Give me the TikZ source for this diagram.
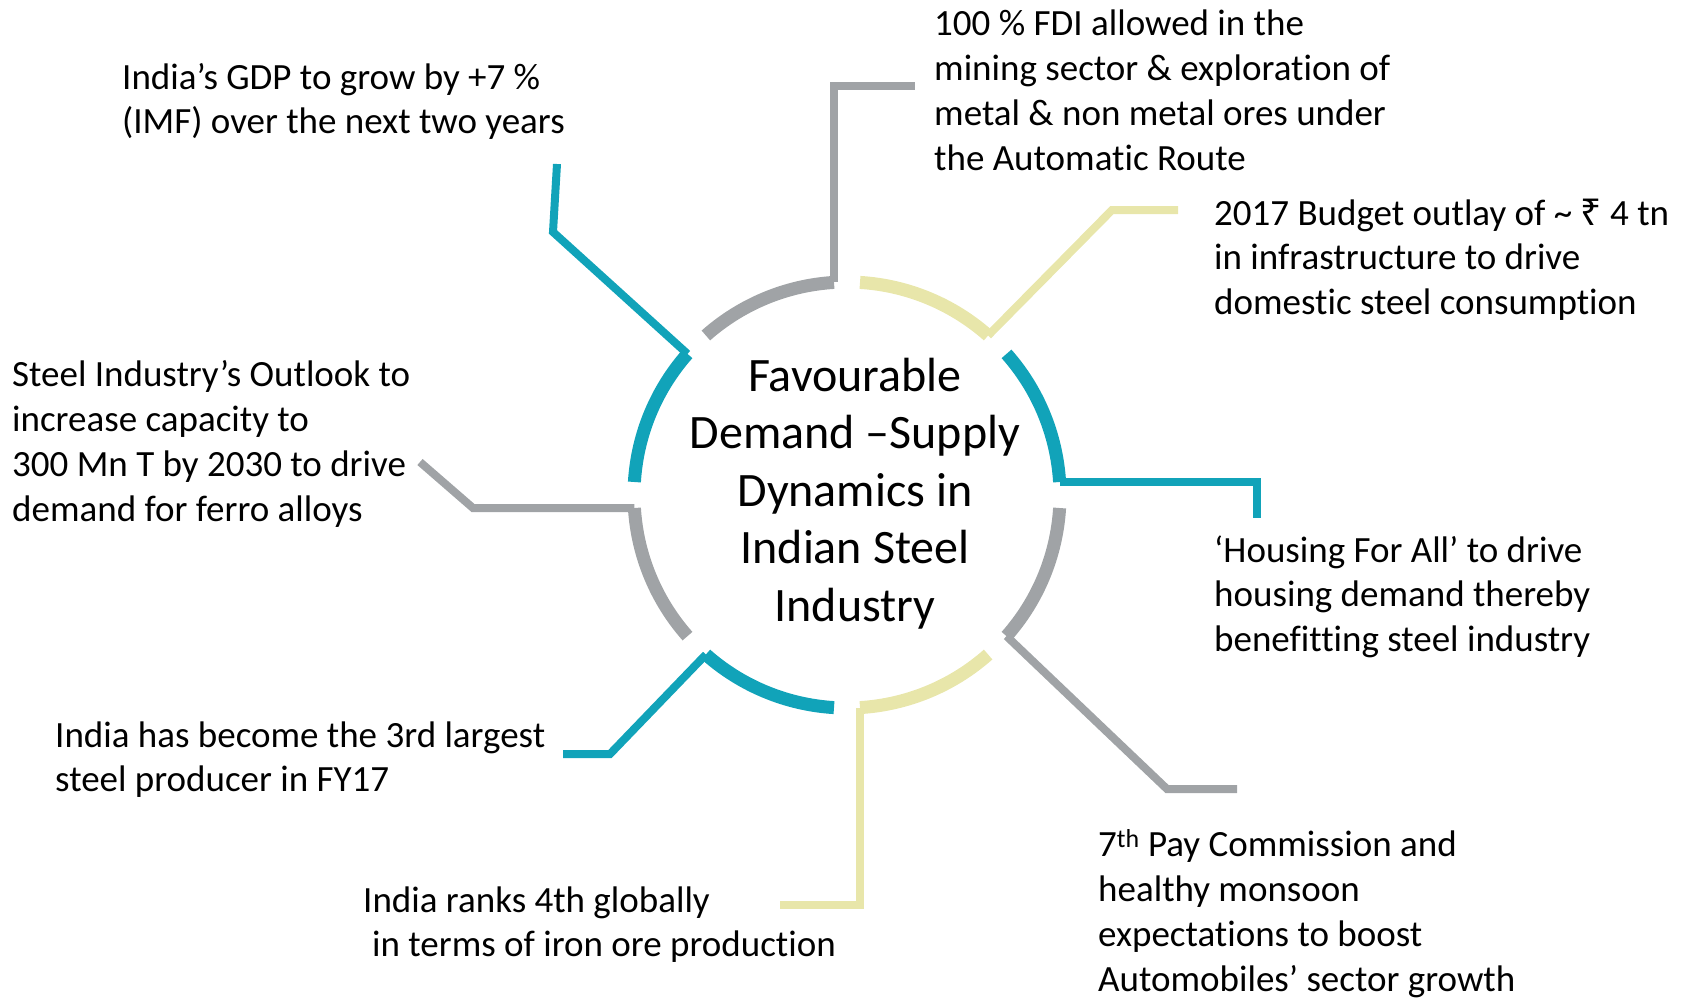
\documentclass[tikz,border=0pt]{standalone}
\usepackage{fontspec}
\setmainfont{Carlito}[Ligatures=NoCommon]
\newfontfamily\rupeefont{Noto Sans}
\definecolor{steelteal}{RGB}{17,163,185}
\definecolor{steelgray}{RGB}{160,163,166}
\definecolor{steelyellow}{RGB}{232,230,170}
\tikzstyle{ring}=[line width=13pt]
\tikzstyle{lead}=[line width=8pt,line join=miter]
\tikzstyle{note}=[anchor=base west,align=left,inner sep=0pt,font=\fontsize{37}{44.7}\selectfont]
\tikzstyle{hubtext}=[anchor=base,align=center,inner sep=0pt,font=\fontsize{48}{57.5}\selectfont]

\begin{document}
\begin{tikzpicture}[x=1pt,y=1pt]
    \useasboundingbox (0,0) rectangle (1684,-997);
    \coordinate (ctr) at (847,-495);
    % base of a node is the baseline of its last line
    \node[hubtext] (hub) at (855,-621) {Favourable\\Demand –Supply\\Dynamics in\\Indian Steel\\Industry};

    % ring of eight arcs
    \foreach \a/\col in {0/steelteal,45/steelyellow,90/steelgray,135/steelteal,180/steelgray,225/steelteal,270/steelyellow,315/steelgray}
    \draw[ring,\col] ([shift={(\a+3.5:213pt)}]ctr) arc[start angle=\a+3.5,end angle=\a+41.5,radius=213pt];

    % text around the ring
    \node[note] (gdp) at (122,-133.7) {India’s GDP to grow by +7 \%\\(IMF) over the next two years};
    \node[note] (fdi) at (934,-170) {100 \% FDI allowed in the\\mining sector \& exploration of\\metal \& non metal ores under\\the Automatic Route};
    \node[note] (budget) at (1214,-314.4) {2017 Budget outlay of \textasciitilde\ {\rupeefont ₹} 4 tn\\in infrastructure to drive\\domestic steel consumption};
    \node[note] (housing) at (1214,-651.4) {‘Housing For All’ to drive\\housing demand thereby\\benefitting steel industry};
    \node[note] (paycom) at (1098,-991) {7\textsuperscript{th} Pay Commission and\\healthy monsoon\\expectations to boost\\Automobiles’ sector growth};
    \node[note] (ironore) at (363,-956.7) {India ranks 4th globally\\\hspace*{9pt}in terms of iron ore production};
    \node[note] (rank3) at (55,-791.7) {India has become the 3rd largest\\steel producer in FY17};
    \node[note] (outlook) at (12,-521) {Steel Industry’s Outlook to\\increase capacity to\\300 Mn T by 2030 to drive\\demand for ferro alloys};

    % leader ends
    \coordinate (gdpA) at ([shift={(138.5:213pt)}]ctr);
    \coordinate (gdpB) at (553,-232);
    \coordinate (gdpC) at (557,-164);
    \coordinate (fdiA) at ([shift={(93.5:213pt)}]ctr);
    \coordinate (fdiC) at (915,-86);
    \coordinate (budgetA) at ([shift={(48.5:213pt)}]ctr);
    \coordinate (budgetB) at (1112,-210);
    \coordinate (budgetC) at (1178,-210);
    \coordinate (housingA) at ([shift={(3.5:213pt)}]ctr);
    \coordinate (housingC) at (1257,-518);
    \coordinate (paycomA) at ([shift={(-41.5:213pt)}]ctr);
    \coordinate (paycomB) at (1167,-789);
    \coordinate (paycomC) at (1237,-789);
    \coordinate (ironoreA) at ([shift={(-86.5:213pt)}]ctr);
    \coordinate (ironoreC) at (780,-905);
    \coordinate (rank3A) at ([shift={(-131.5:213pt)}]ctr);
    \coordinate (rank3B) at (610,-754);
    \coordinate (rank3C) at (563,-754);
    \coordinate (outlookA) at ([shift={(183.5:213pt)}]ctr);
    \coordinate (outlookB) at (473,-508);
    \coordinate (outlookC) at (420,-462);

    \draw[lead,steelteal] (gdpA) -- (gdpB) -- (gdpC);
    \draw[lead,steelgray] (fdiA) |- (fdiC);
    \draw[lead,steelyellow] (budgetA) -- (budgetB) -- (budgetC);
    \draw[lead,steelteal] (housingA) -| (housingC);
    \draw[lead,steelgray] (paycomA) -- (paycomB) -- (paycomC);
    \draw[lead,steelyellow] (ironoreA) |- (ironoreC);
    \draw[lead,steelteal] (rank3A) -- (rank3B) -- (rank3C);
    \draw[lead,steelgray] (outlookA) -- (outlookB) -- (outlookC);
\end{tikzpicture}
\end{document}
